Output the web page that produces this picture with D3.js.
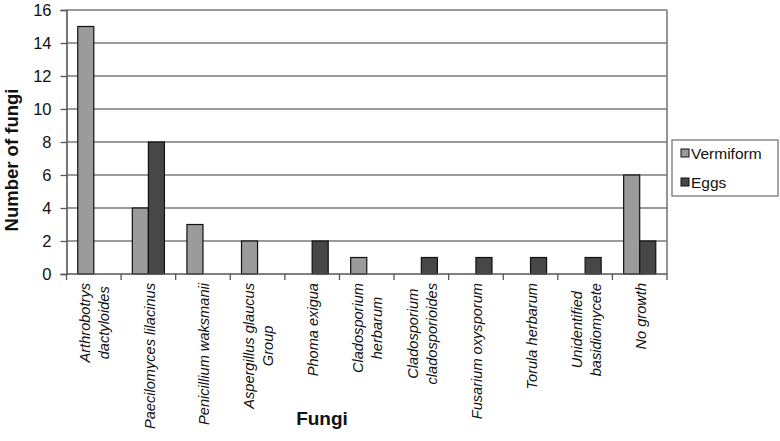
<!DOCTYPE html>
<html>
<head>
<meta charset="utf-8">
<style>
  body { margin: 0; background: white; font-family: "Liberation Sans", Arial, sans-serif; }
  svg { display: block; }
</style>
<script src="https://cdn.jsdelivr.net/npm/d3@7"></script>
</head>
<body>
<svg id="chart" width="780" height="441"></svg>
<script>
// fungi names, split in the lines the labels use
let fungi = [
  ["Arthrobotrys", "dactyloides"],
  ["Paecilomyces lilacinus"],
  ["Penicillium waksmanii"],
  ["Aspergillus glaucus", "Group"],
  ["Phoma exigua"],
  ["Cladosporium", "herbarum"],
  ["Cladosporium", "cladosporioides"],
  ["Fusarium oxysporum"],
  ["Torula herbarum"],
  ["Unidentified", "basidiomycete"],
  ["No growth"]
]
let series = ["Vermiform", "Eggs"]
let vermiform = [15, 4, 3, 2, 0, 1, 0, 0, 0, 0, 6]
let eggs = [0, 8, 0, 0, 2, 0, 1, 1, 1, 1, 2]
let yTicks = [0, 2, 4, 6, 8, 10, 12, 14, 16]

let colors = { Vermiform: "#9b9b9b", Eggs: "#474747" }

let svg = d3.select("#chart")
let plotLeft = 66.5, plotRight = 667, plotTop = 10, plotBottom = 274

let names = fungi.map(d => d.join(" "))
let rows = names.map((n, i) => ({ name: n, lines: fungi[i], Vermiform: vermiform[i], Eggs: eggs[i] }))

let x0 = d3.scaleBand().domain(names).range([plotLeft, plotRight]).padding(0)
let x1 = d3.scaleBand().domain(series).range([0, x0.bandwidth()]).paddingInner(0).paddingOuter(0.7)
let y = d3.scaleLinear().domain([0, 16]).range([plotBottom, plotTop])

// gridlines
svg.append("g").selectAll("line").data(yTicks.filter(d => d > 0)).enter().append("line")
  .attr("x1", plotLeft).attr("x2", plotRight)
  .attr("y1", d => y(d)).attr("y2", d => y(d))
  .attr("stroke", "#7a7a7a").attr("stroke-width", 1.6)

// right border of plot area
svg.append("line")
  .attr("x1", plotRight).attr("x2", plotRight).attr("y1", plotTop).attr("y2", plotBottom)
  .attr("stroke", "#7a7a7a").attr("stroke-width", 1.6)

// bars
let groups = svg.append("g").selectAll("g").data(rows).enter().append("g")
  .attr("transform", d => `translate(${x0(d.name)},0)`)

groups.selectAll("rect")
  .data(d => series.map(s => ({ key: s, value: d[s] })).filter(e => e.value > 0))
  .enter().append("rect")
  .attr("x", d => x1(d.key))
  .attr("width", x1.bandwidth())
  .attr("y", d => y(d.value))
  .attr("height", d => y(0) - y(d.value))
  .attr("fill", d => colors[d.key])
  .attr("stroke", "#111")
  .attr("stroke-width", 1.2)

// y axis
let yAxis = svg.append("g")
  .attr("transform", `translate(${plotLeft},0)`)
  .call(d3.axisLeft(y).tickValues(yTicks).tickSize(6).tickPadding(9))
yAxis.select(".domain").attr("stroke", "#555").attr("stroke-width", 1.6)
yAxis.selectAll(".tick line").attr("stroke", "#555").attr("stroke-width", 1.3)
yAxis.selectAll(".tick text")
  .attr("font-family", "Liberation Sans, Arial, sans-serif")
  .attr("font-size", 16.5).attr("fill", "#111")

// x axis line and category ticks
svg.append("line")
  .attr("x1", plotLeft).attr("x2", plotRight).attr("y1", plotBottom).attr("y2", plotBottom)
  .attr("stroke", "#555").attr("stroke-width", 1.6)
let bounds = names.map(n => x0(n)).concat([x0.range()[1]])
svg.append("g").selectAll("line").data(bounds).enter().append("line")
  .attr("x1", d => d).attr("x2", d => d)
  .attr("y1", plotBottom).attr("y2", plotBottom + 6)
  .attr("stroke", "#555").attr("stroke-width", 1.3)

// rotated category labels
let pitch = 19
let labels = svg.append("g").selectAll("g").data(rows).enter().append("g")
  .attr("transform", d => `translate(${x0(d.name) + x0.bandwidth() / 2 + 1},${plotBottom + 9}) rotate(-90)`)

labels.each(function (d) {
  let g = d3.select(this)
  let n = d.lines.length
  let texts = d.lines.map((line, i) => g.append("text")
    .attr("y", (i - (n - 1) / 2) * pitch)
    .attr("dy", "0.35em")
    .attr("text-anchor", "middle")
    .attr("font-style", "italic")
    .attr("font-size", 14.6)
    .attr("fill", "#111")
    .text(line))
  let maxLen = d3.max(texts, t => t.node().getComputedTextLength())
  texts.forEach(t => t.attr("x", -maxLen / 2))
})

// axis titles
svg.append("text")
  .attr("transform", "translate(18,160) rotate(-90)")
  .attr("text-anchor", "middle")
  .attr("font-weight", "bold")
  .attr("font-size", 18.5)
  .attr("fill", "#111")
  .text("Number of fungi")

svg.append("text")
  .attr("x", 322).attr("y", 425)
  .attr("text-anchor", "middle")
  .attr("font-weight", "bold")
  .attr("font-size", 19)
  .attr("fill", "#111")
  .text("Fungi")

// legend
let legend = svg.append("g")
legend.append("rect")
  .attr("x", 672).attr("y", 140).attr("width", 106).attr("height", 56)
  .attr("fill", "white").attr("stroke", "#777").attr("stroke-width", 1.3)
let items = legend.selectAll("g.item").data(series).enter().append("g")
  .attr("class", "item")
  .attr("transform", (d, i) => `translate(681,${153 + i * 29})`)
items.append("rect")
  .attr("x", 0).attr("y", -4).attr("width", 8).attr("height", 8)
  .attr("fill", d => colors[d]).attr("stroke", "#111").attr("stroke-width", 1)
items.append("text")
  .attr("x", 10).attr("dy", "0.36em")
  .attr("font-size", 15.5).attr("fill", "#111")
  .text(d => d)
</script>
</body>
</html>
